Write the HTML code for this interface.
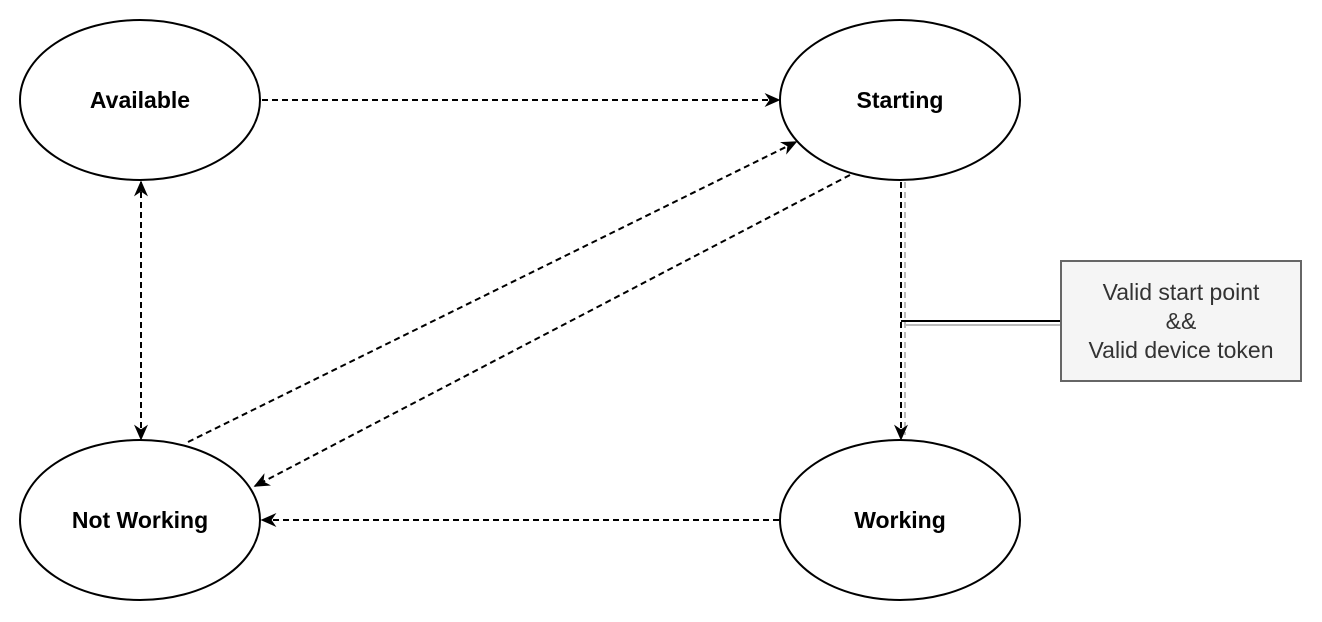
<!DOCTYPE html>
<html><head><style>body{margin:0;background:#fff}svg{display:block}</style></head><body>
<svg width="1322" height="622" xmlns="http://www.w3.org/2000/svg" font-family="Liberation Sans, Arial, sans-serif">
<defs>
<marker id="a" viewBox="0 0 10 10" refX="9" refY="5" markerWidth="16" markerHeight="14" markerUnits="userSpaceOnUse" orient="auto-start-reverse" preserveAspectRatio="none">
<path d="M0,0 L10,5 L0,10 L3,5 Z" fill="#000"/></marker>
</defs>
<g fill="#fff" stroke="#000" stroke-width="2">
<ellipse cx="140" cy="100" rx="120" ry="80"/>
<ellipse cx="900" cy="100" rx="120" ry="80"/>
<ellipse cx="140" cy="520" rx="120" ry="80"/>
<ellipse cx="900" cy="520" rx="120" ry="80"/>
</g>
<g font-size="23" font-weight="bold" text-anchor="middle" fill="#000">
<text x="140" y="108">Available</text>
<text x="900" y="108">Starting</text>
<text x="140" y="528">Not Working</text>
<text x="900" y="528">Working</text>
</g>
<g stroke="#000" stroke-width="2" stroke-dasharray="6,4" fill="none">
<line x1="262" y1="100" x2="779" y2="100" marker-end="url(#a)"/>
<line x1="141" y1="182" x2="141" y2="439" marker-start="url(#a)" marker-end="url(#a)"/>
<line x1="188" y1="442" x2="796" y2="142" marker-end="url(#a)"/>
<line x1="850" y1="175" x2="255" y2="486" marker-end="url(#a)"/>
<line x1="779" y1="520" x2="262" y2="520" marker-end="url(#a)"/>
<line x1="905" y1="182" x2="905" y2="435" stroke="#bbb"/>
<line x1="901" y1="182" x2="901" y2="439" marker-end="url(#a)"/>
</g>
<line x1="901" y1="321" x2="1060" y2="321" stroke="#000" stroke-width="2"/>
<line x1="905" y1="325" x2="1060" y2="325" stroke="#bbb" stroke-width="2"/>
<rect x="1061" y="261" width="240" height="120" fill="#f5f5f5" stroke="#666" stroke-width="2"/>
<g font-size="23" text-anchor="middle" fill="#333">
<text x="1181" y="300">Valid start point</text>
<text x="1181" y="329">&amp;&amp;</text>
<text x="1181" y="358">Valid device token</text>
</g>
</svg>
</body></html>
